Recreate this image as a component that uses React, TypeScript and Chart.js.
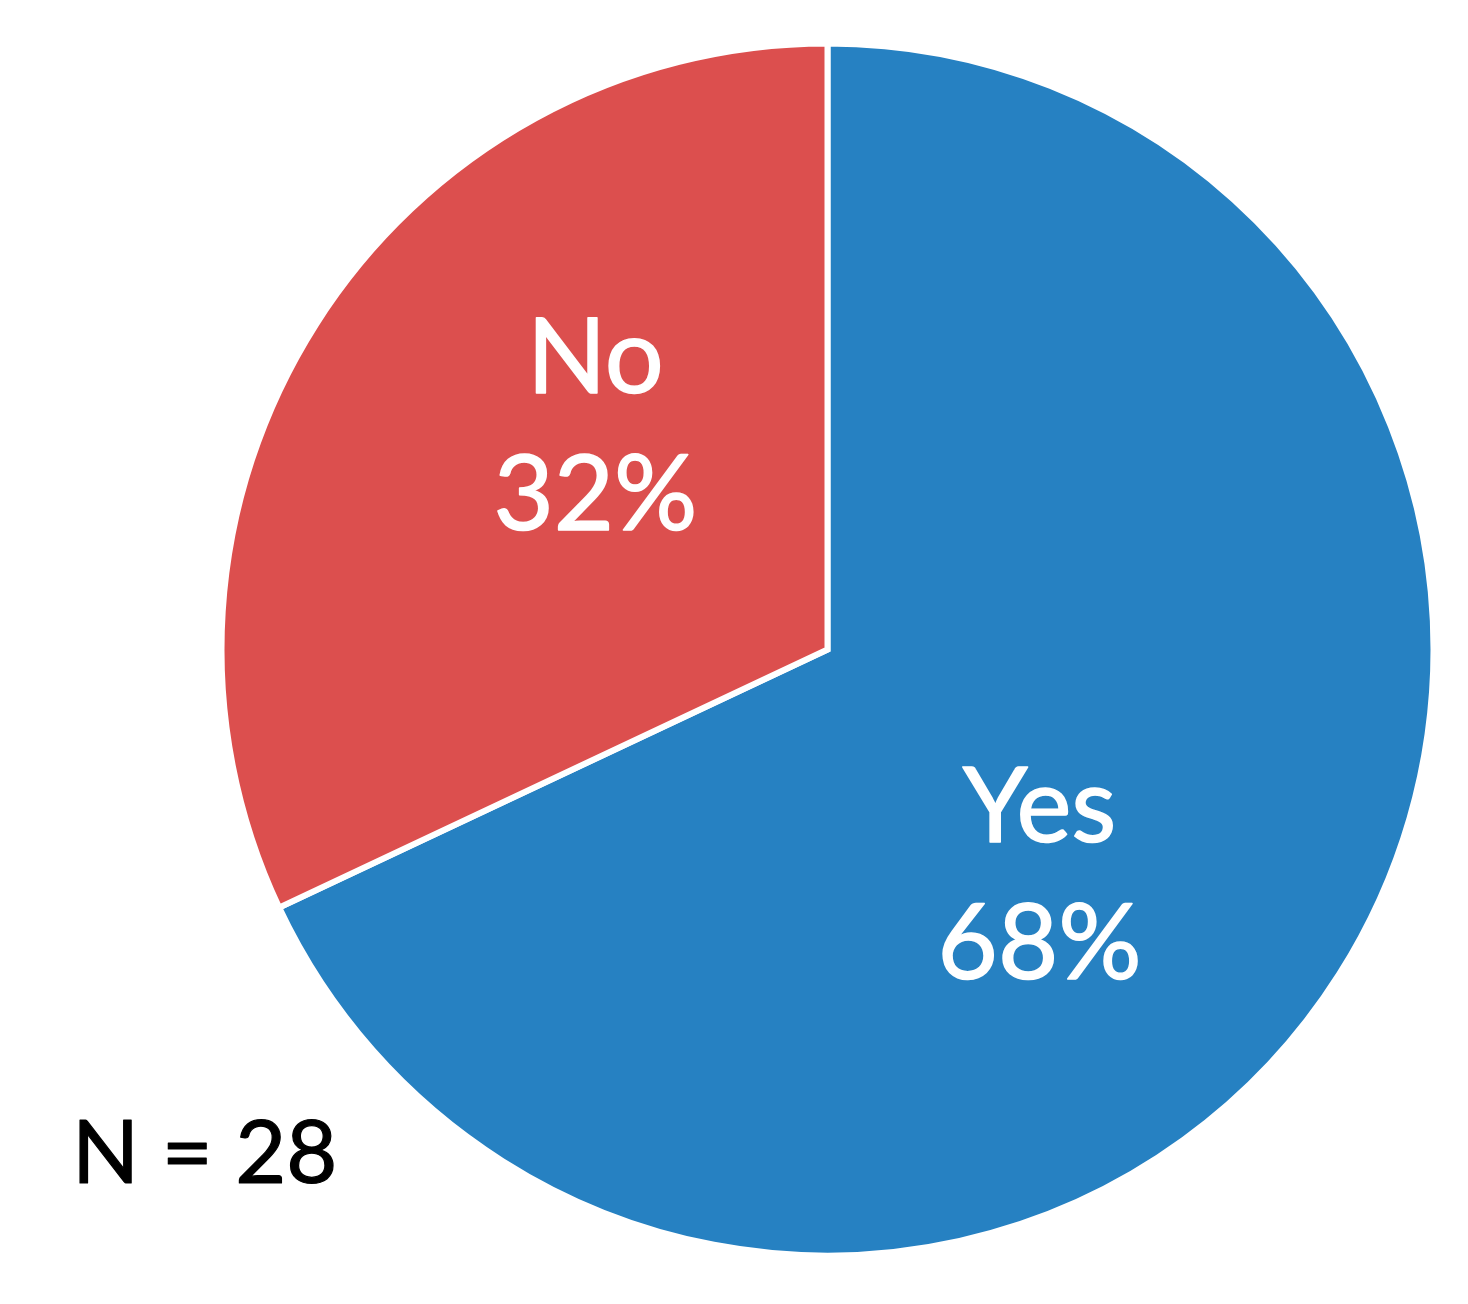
import React, { useEffect, useRef } from "react";
import { Chart, registerables } from "chart.js";

Chart.register(...registerables);

const categories = ["Yes", "No"];
const values = [68, 32];
const colors = ["#2681C2", "#DC4F4E"];
const labelTexts = ["68%", "32%"];
const sampleNote = "N = 28";
// label placement as fraction of the outer radius from the pie centre
const labelOffsets = [
  [0.35, 0.37],
  [-0.383, -0.37],
];

const FONT = "Lato, 'Open Sans', sans-serif";

const labelPlugin = {
  id: "pieLabels",
  afterDatasetsDraw(chart: any) {
    const ctx = chart.ctx;
    const meta = chart.getDatasetMeta(0);
    ctx.save();
    ctx.lineJoin = "round";
    meta.data.forEach((arc: any, i: number) => {
      const r = arc.outerRadius;
      const cx = arc.x + labelOffsets[i][0] * r;
      const cy = arc.y + labelOffsets[i][1] * r;
      ctx.fillStyle = "#ffffff";
      ctx.strokeStyle = "#ffffff";
      ctx.lineWidth = 1.5;
      ctx.textAlign = "center";
      ctx.textBaseline = "alphabetic";
      ctx.font = `104px ${FONT}`;
      ctx.fillText(categories[i], cx, cy - 32);
      ctx.strokeText(categories[i], cx, cy - 32);
      ctx.fillText(labelTexts[i], cx, cy + 105);
      ctx.strokeText(labelTexts[i], cx, cy + 105);
    });
    ctx.fillStyle = "#000000";
    ctx.strokeStyle = "#000000";
    ctx.lineWidth = 1.2;
    ctx.textAlign = "left";
    ctx.font = `88px ${FONT}`;
    ctx.fillText(sampleNote, 72, 1183);
    ctx.strokeText(sampleNote, 72, 1183);
    ctx.restore();
  },
};

export default function App() {
  const ref = useRef<HTMLCanvasElement>(null);
  useEffect(() => {
    if (!ref.current) return;
    const chart = new Chart(ref.current, {
      type: "pie",
      data: {
        labels: categories,
        datasets: [
          {
            data: values,
            backgroundColor: colors,
            borderColor: "#ffffff",
            borderWidth: 6,
            borderJoinStyle: "miter",
          },
        ],
      },
      options: {
        responsive: false,
        animation: false,
        radius: 606,
        layout: { padding: { left: 187, right: 0, top: 0, bottom: 5 } },
        plugins: {
          legend: { display: false },
          tooltip: { enabled: false },
        },
      },
      plugins: [labelPlugin],
    });
    return () => chart.destroy();
  }, []);
  return (
    <div style={{ position: "fixed", left: 0, top: 0, width: 1468, height: 1304, background: "#fff" }}>
      <canvas ref={ref} width={1468} height={1304} style={{ width: 1468, height: 1304 }} />
    </div>
  );
}
